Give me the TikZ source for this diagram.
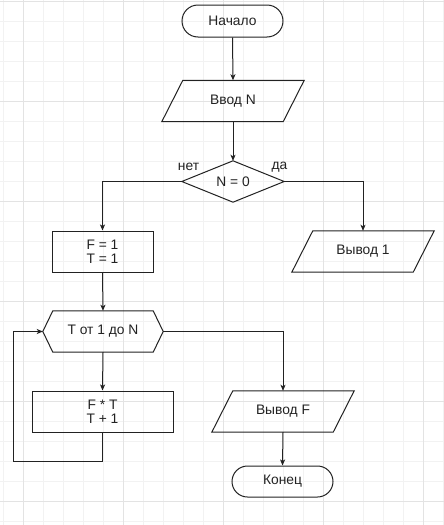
\documentclass[tikz,border=0pt]{standalone}
\usepackage{fontspec}
\setmainfont{Liberation Sans}
\usetikzlibrary{arrows.meta}
\definecolor{gridminor}{HTML}{F2F2F2}
\definecolor{gridmajor}{HTML}{E3E3E3}
\definecolor{ink}{HTML}{222222}
\newcommand\ioshape[1]{\draw[shapeline] ([xshift=10.5pt]#1.north west) -- ([xshift=10.5pt]#1.north east) -- ([xshift=-10.5pt]#1.south east) -- ([xshift=-10.5pt]#1.south west) -- cycle;}
\begin{document}
\begin{tikzpicture}[x=1pt,y=-1pt,
  every node/.style={font=\fontsize{13.8pt}{14.5pt}\selectfont, text=ink, inner sep=0pt},
  shapeline/.style={draw=ink, line width=1pt},
  termbox/.style={shapeline, rounded corners=15.5pt, minimum width=101pt, minimum height=31pt},
  procbox/.style={shapeline, minimum height=41pt, align=center},
  iobox/.style={minimum width=121pt, minimum height=41pt},
  decbox/.style={minimum width=102pt, minimum height=41pt},
  hexbox/.style={minimum width=120pt, minimum height=41pt},
  flow/.style={draw=ink, line width=1pt, -{Stealth[length=6pt,width=5pt,inset=1.5pt]}},
  plainflow/.style={draw=ink, line width=1pt}
]
\useasboundingbox (0,0) rectangle (444,525);
\fill[white] (0,0) rectangle (444,525);
% grid
\foreach \gx in {3,23,...,443} \draw[gridminor, line width=1pt] (\gx,0) -- (\gx,525);
\foreach \gy in {1,21,...,521} \draw[gridminor, line width=1pt] (0,\gy) -- (444,\gy);
\foreach \gx in {23,123,...,423} \draw[gridmajor, line width=1pt] (\gx,0) -- (\gx,525);
\foreach \gy in {1,101,...,501} \draw[gridmajor, line width=1pt] (0,\gy) -- (444,\gy);

% nodes
\node[termbox, minimum height=32pt, rounded corners=16pt] (start) at (232.5,21) {Начало};
\node[iobox] (inN) at (233,101) {Ввод N};
\ioshape{inN}
\node[decbox] (dec) at (233,181.5) {N = 0};
\draw[shapeline] (dec.north) -- (dec.east) -- (dec.south) -- (dec.west) -- cycle;
\node (no) at (188.5,167) {нет};
\node (yes) at (279.5,167) {да};
\node[procbox, minimum width=101pt] (init) at (102.5,251.5) {F = 1\\T = 1};
\node[iobox] (out1) at (363,251.5) {Вывод 1};
\ioshape{out1}
\node[hexbox] (hex) at (103,331.5) {T от 1 до N};
\draw[shapeline] ([xshift=10pt]hex.north west) -- ([xshift=-10pt]hex.north east) -- (hex.east) -- ([xshift=-10pt]hex.south east) -- ([xshift=10pt]hex.south west) -- (hex.west) -- cycle;
\node[procbox, minimum width=141pt] (body) at (102.5,411.5) {F * T\\T + 1};
\node[iobox] (outF) at (283,411.5) {Вывод F};
\ioshape{outF}
\node[termbox] (end) at (282.5,481.5) {Конец};
\coordinate (lp) at (13,461);

% connectors
\draw[flow] (start.south) -- (inN.north);
\draw[flow] (inN.south) -- (dec.north);
\draw[flow] (dec.west) -| (init.north);
\draw[flow] (dec.east) -| (out1.north);
\draw[flow] (init.south) -- (hex.north);
\draw[flow] (hex.south) -- (body.north);
\draw[flow] (hex.east) -| (outF.north);
\draw[flow] (outF.south) -- (end.north);
\draw[plainflow] (body.south) |- (lp);
\draw[flow] (lp) |- (hex.west);
\end{tikzpicture}
\end{document}
